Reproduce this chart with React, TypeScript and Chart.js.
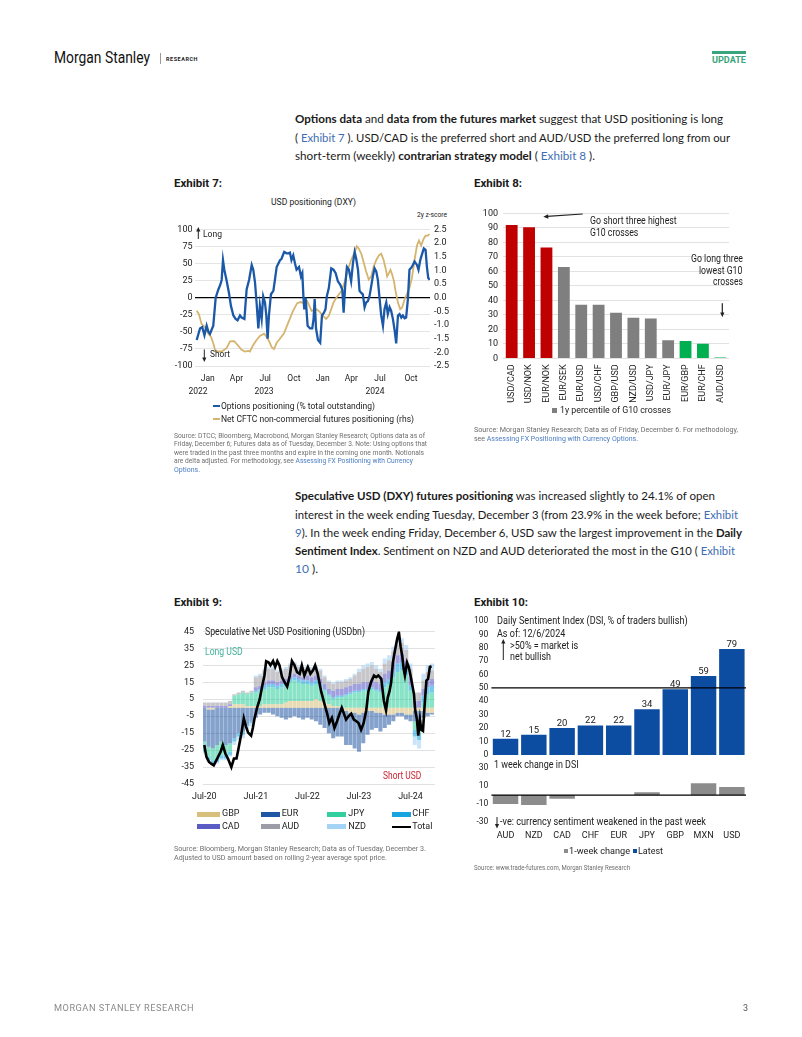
import React, { useEffect, useLayoutEffect, useRef } from "react";
import { Chart, registerables } from "chart.js";
Chart.register(...registerables);

const RB = "Roboto, 'Noto Sans', Arial, sans-serif";
const BODY = "Lato, 'Noto Sans', sans-serif";
const LINK = "#3d6eb4";
Chart.defaults.font.family = "Roboto";
Chart.defaults.color = "#222";

// ---------------- Exhibit 7 data ----------------
const ex7TickWeeks = [5, 18, 31, 44, 57, 70, 83, 97];
const ex7TickLabels = ["Jan", "Apr", "Jul", "Oct", "Jan", "Apr", "Jul", "Oct"];
const ex7YearWeeks = [0.6, 30.5, 80.7];
const ex7YearLabels = ["2022", "2023", "2024"];
const ex7OptWeeks = [0, 1.5, 2.5, 3.5, 4.5, 5.3, 6, 7.5, 8.6, 9.8, 10.7, 11.3, 11.9, 12.5, 13.6, 14.6, 15.5, 16.6, 17.6, 18.5, 19.6, 20.3, 21.6, 22.6, 23.7, 24.9, 25.6, 26.4, 27.1, 27.9, 28.6, 29.4, 30.1, 30.9, 31.5, 32.1, 32.7, 33.6, 34.7, 35.4, 36.2, 37.7, 38.4, 39.6, 40.7, 41.5, 42.2, 42.9, 43.7, 44.5, 45.2, 46.3, 47.2, 47.8, 48.3, 48.7, 49.3, 50.2, 51.3, 52.3, 52.9, 53.4, 54.0, 54.9, 55.9, 56.7, 57.6, 58.3, 58.9, 59.8, 60.9, 61.9, 62.9, 63.9, 65.0, 65.9, 66.5, 67.2, 68.0, 68.9, 69.9, 70.7, 71.5, 72.2, 73.0, 73.7, 74.5, 75.2, 76.0, 76.7, 77.5, 78.2, 79.0, 79.7, 80.5, 81.3, 82.0, 82.8, 83.5, 84.3, 85.0, 85.8, 86.5, 87.3, 88.0, 88.8, 89.6, 90.3, 91.1, 91.8, 92.6, 93.3, 94.1, 94.8, 95.6, 96.3, 97.4, 98.6, 99.7, 100.4, 101.2, 102.1, 102.8, 103.6, 104.2, 104.8, 105.4];
const ex7OptValues = [-62, -45, -43, -55, -41, -50, -53, -41, 0, 12, 19, 26, 55, 41, 24, 7, -12, -26, -31, -33, -26, -29, -31, 12, 26, 48, 41, 22, -7, -45, -12, -31, 2, -7, -26, -60, -26, 5, 10, 26, 45, 55, 57, 67, 65, 65, 66, 55, 62, 50, 41, 45, 31, 36, 2, -17, 0, -41, -45, -45, -31, -2, -45, -62, -66, -26, -22, -17, 2, 14, 43, 41, 36, 24, 19, 12, -22, 17, 45, 41, 24, 50, 67, 57, 41, 10, 7, 5, -14, -7, -5, 2, 17, 31, 43, 38, 26, -2, -26, -41, -17, -7, -24, -14, -19, -31, -48, -67, -26, -24, -29, -26, -30, -29, -2, 41, 45, 53, 48, 41, 55, 65, 72, 70, 45, 29, 26];
const ex7CftcWeeks = [0, 1.0, 2.2, 3.8, 5.3, 6.5, 7.5, 8.3, 9.0, 11.3, 13.5, 15.1, 17.0, 18.5, 20.3, 21.9, 23.4, 24.1, 25.6, 27.1, 28.6, 30.5, 31.7, 32.8, 34.0, 35.0, 36.2, 37.5, 39.5, 41.5, 43.5, 45.5, 47.0, 48.5, 50.0, 51.0, 52.0, 54.1, 55.6, 57.1, 58.6, 59.8, 60.9, 61.9, 63.2, 64.4, 65.4, 66.9, 68.4, 69.9, 71.5, 72.5, 73.4, 74.5, 75.5, 76.7, 77.9, 79.0, 80.1, 81.3, 82.5, 83.5, 84.6, 85.5, 86.2, 87.0, 87.7, 88.5, 89.3, 90.0, 91.1, 92.1, 93.0, 94.1, 95.1, 96.3, 97.4, 98.6, 99.7, 100.6, 101.6, 102.7, 103.6, 104.6, 105.4];
const ex7CftcValues = [-0.48, -0.6, -0.96, -1.08, -1.32, -1.44, -1.67, -1.91, -1.97, -1.97, -1.85, -1.6, -1.59, -1.73, -1.91, -1.97, -1.95, -1.97, -1.73, -1.55, -1.4, -1.32, -1.44, -1.6, -1.82, -1.88, -1.65, -1.52, -1.3, -0.9, -0.5, -0.2, -0.16, -0.2, -0.12, -0.3, -0.48, -0.42, -0.51, -0.66, -0.78, -0.66, -0.42, -0.18, 0, 0.12, 0.24, 0.54, 1.02, 1.38, 1.67, 1.88, 1.79, 1.61, 1.32, 0.96, 0.66, 0.78, 1.14, 1.38, 1.55, 1.61, 1.38, 1.08, 0.78, 0.9, 1.02, 0.84, 0.6, 0.24, -0.18, -0.42, -0.36, -0.06, 0.12, 0.36, 0.72, 1.38, 1.91, 2.09, 1.91, 2.15, 2.27, 2.27, 2.33];

// ---------------- Exhibit 8 data ----------------
const ex8Pairs = ["USD/CAD", "USD/NOK", "EUR/NOK", "EUR/SEK", "EUR/USD", "USD/CHF", "GBP/USD", "NZD/USD", "USD/JPY", "EUR/JPY", "EUR/GBP", "EUR/CHF", "AUD/USD"];
const ex8Values = [92, 90.5, 76.5, 63, 37, 37, 31.5, 28, 27.5, 12.5, 12, 10, 0.5];
const ex8Signal = ["short", "short", "short", "", "", "", "", "", "", "", "long", "long", "long"];

// ---------------- Exhibit 9 data (monthly, Jul-20 .. Dec-24) ----------------
const ex9TickMonths = [0, 12, 24, 36, 48];
const ex9TickLabels = ["Jul-20", "Jul-21", "Jul-22", "Jul-23", "Jul-24"];
const ex9Names = ["GBP", "EUR", "JPY", "CHF", "CAD", "AUD", "NZD"];
const ex9Colors = ["#d8c07c", "#1f56a3", "#33cf9f", "#17a4e0", "#5b5bc6", "#9c9ca6", "#a3d3f5"];
const ex9GBP = [0, -1, -1, 0, 0, 0, 1, 2, 2, 2, 1, 1, 1, 1, 2, 2, 2, 2, 2, 3, 4, 4, 4, 4, 4, 4, 5, 4, 3, 2, 1, 1, 0, -2, -3, -3, -4, -3, -2, -2, -3, -3, -4, -4, -4, -3, -3, -4, -4, -2, -2, -2, -3, -3];
const ex9EUR = [-20, -22, -23, -22, -20, -22, -21, -18, -15, -14, -10, -8, -6, -4, -3, -3, -4, -5, -6, -7, -6, -5, -6, -7, -6, -7, -8, -10, -12, -15, -18, -17, -17, -20, -19, -21, -22, -18, -14, -11, -9, -11, -8, -6, -4, -2, -2, -3, -4, -6, -7, -4, -2, -1];
const ex9JPY = [-4, -6, -7, -8, -8, -6, -5, 5, 6, 7, 7, 8, 8, 9, 9, 10, 10, 9, 10, 10, 11, 12, 11, 10, 10, 9, 9, 8, 7, 5, 4, 5, 6, 7, 8, 9, 9, 10, 10, 11, 10, 9, 12, 14, 18, 21, 22, 19, 10, -5, -6, 3, 8, 9];
const ex9CHF = [-2, -2, -2, -2, -2, -2, -2, -2, -2, -2, -1, -1, 1, 1, 2, 2, 2, 2, 2, 2, 2, 2, 2, 2, 2, 2, 2, 2, 1, 1, 1, 1, 1, 1, 1, 1, 1, 1, 1, 1, 1, 1, 3, 3, 4, 5, 5, 4, 3, -4, -4, 4, 4, 4];
const ex9CAD = [1, 1, 1, 1, 1, 1, 1, 0, 0, 0, 0, 0, 2, 2, 2, 2, 2, 2, 2, 2, 2, 2, 2, 2, 3, 3, 3, 3, 3, 3, 4, 4, 4, 4, 4, 4, 4, 4, 4, 4, 4, 4, 5, 5, 5, 5, 5, 5, 5, 4, 4, 4, 4, 4];
const ex9AUD = [2, 2, 2, 2, 2, 2, 2, 1, 1, 1, 1, 1, 6, 6, 7, 7, 7, 6, 6, 6, 6, 6, 5, 5, 5, 5, 5, 5, 4, 4, 4, 4, 4, 4, 4, 5, 7, 8, 9, 9, 8, 7, 6, 6, 6, 6, 6, 6, 5, 5, 5, 5, 5, 5];
const ex9NZD = [-1, -1, -1, -1, -1, -1, -1, -2, -2, -2, -2, -2, 1, 1, 1, 1, 1, 1, 1, 1, 1, 1, 1, 1, 1, 1, 1, 1, 1, 1, 1, 1, 1, 1, 1, 1, 2, 2, 2, 2, 2, 2, 3, 3, 3, 3, 3, 3, 3, -5, -5, 4, 4, 4];
const ex9Series = [ex9GBP, ex9EUR, ex9JPY, ex9CHF, ex9CAD, ex9AUD, ex9NZD];
const ex9TotalMonths = [0, 0.5, 1.1, 1.6, 2.2, 3.0, 3.8, 4.3, 4.9, 5.5, 6.3, 6.9, 7.5, 7.9, 8.6, 9.2, 9.7, 10.2, 10.9, 11.3, 11.7, 12.3, 12.9, 13.6, 14.0, 14.4, 15.0, 15.4, 16.0, 16.5, 17.0, 17.5, 18.1, 18.7, 19.3, 19.9, 20.4, 21.0, 21.6, 22.2, 22.7, 23.3, 24.1, 24.7, 25.3, 25.8, 26.4, 27.2, 28.0, 28.6, 29.1, 29.7, 30.3, 30.9, 31.5, 32.0, 32.5, 33.0, 33.6, 34.2, 34.8, 35.4, 35.9, 36.5, 37.1, 37.7, 38.2, 38.8, 39.5, 40.0, 40.5, 41.2, 41.8, 42.3, 42.7, 43.1, 43.5, 43.9, 44.4, 44.9, 45.3, 45.7, 46.1, 46.4, 46.7, 47.2, 47.6, 48.0, 48.3, 48.8, 49.1, 49.5, 49.8, 50.2, 50.5, 50.9, 51.3, 51.7, 52.1, 52.5, 52.9];
const ex9TotalValues = [-22, -29, -32, -33, -34, -30, -26, -22, -27, -30, -35, -30, -30, -25, -15.7, -6.3, -11, -14.7, -16.5, -12, -6.3, 0, 5, 14.3, 19, 27.4, 26.6, 25, 27.5, 24, 27.5, 25, 18, 15, 12.5, 19, 27.5, 25, 21, 20, 25, 19, 24, 20, 22, 25, 20, 9.6, 2, -3.5, -9, -6, -12, -8, -3.5, 0, -3.5, -7, -5, -3.5, -7, -8, -9, -13, -9, -1.5, 9.6, 15, 19, 18, 19, 17, 4, -1.5, 6, 9.6, 15, 26.6, 34, 40.6, 44.4, 36, 30, 23, 19, 26.6, 24, 19, 15, 8, -1.5, -7, -16.5, -7, -13, -13.7, 2, 16, 17, 24, 24.4];

// ---------------- Exhibit 10 data ----------------
const ex10Cats = ["AUD", "NZD", "CAD", "CHF", "EUR", "JPY", "GBP", "MXN", "USD"];
const ex10Latest = [12, 15, 20, 22, 22, 34, 49, 59, 79];
const ex10Change = [-10, -11, -4, 0, 0, 3, 0, 13, 9];

// ---------------- helpers ----------------
function rgba(hex: string, a: number) {
  const n = parseInt(hex.slice(1), 16);
  return `rgba(${(n >> 16) & 255},${(n >> 8) & 255},${n & 255},${a})`;
}

const common = {
  responsive: false,
  animation: false,
  devicePixelRatio: 1,
  events: [],
};
const noPlug = { legend: { display: false }, tooltip: { enabled: false }, title: { display: false } };

function refLine(id: string, value: number, width = 1.3) {
  return {
    id,
    afterDatasetsDraw(chart: any) {
      const { ctx, chartArea } = chart;
      const yy = chart.scales.y.getPixelForValue(value);
      ctx.save();
      ctx.strokeStyle = "#000";
      ctx.lineWidth = width;
      ctx.beginPath();
      ctx.moveTo(chartArea.left, yy);
      ctx.lineTo(chartArea.right, yy);
      ctx.stroke();
      ctx.restore();
    },
  };
}

function ChartCanvas({ x, y, w, h, make }: { x: number; y: number; w: number; h: number; make: () => any }) {
  const ref = useRef<HTMLCanvasElement>(null);
  useEffect(() => {
    const chart = new Chart(ref.current as HTMLCanvasElement, make());
    return () => chart.destroy();
  }, []);
  return <canvas ref={ref} width={w} height={h} style={{ position: "absolute", left: x, top: y, width: w, height: h }} />;
}

function T(props: { x: number; y: number; s: number; w?: number; c?: string; b?: boolean; f?: string; ls?: number; children: React.ReactNode }) {
  const { x, y, s, w, c = "#222", b = false, f = RB, ls = 0, children } = props;
  const ref = useRef<HTMLDivElement>(null);
  useLayoutEffect(() => {
    const fit = () => {
      const el = ref.current;
      if (!el || !w) return;
      el.style.transform = "none";
      const nat = el.getBoundingClientRect().width;
      if (nat > 0) el.style.transform = `scaleX(${w / nat})`;
    };
    fit();
    const fs: any = (document as any).fonts;
    if (fs && fs.ready) fs.ready.then(fit);
  }, [w]);
  return (
    <div
      ref={ref}
      style={{
        position: "absolute",
        left: x,
        top: y - 0.63 * s,
        fontFamily: f,
        fontSize: s,
        lineHeight: `${1.2 * s}px`,
        fontWeight: b ? 700 : 400,
        color: c,
        whiteSpace: "nowrap",
        letterSpacing: ls,
        transformOrigin: "0 0",
      }}
    >
      {children}
    </div>
  );
}

function Box({ x, y, w, h, c }: { x: number; y: number; w: number; h: number; c: string }) {
  return <div style={{ position: "absolute", left: x, top: y, width: w, height: h, background: c }} />;
}

// ---------------- chart configs ----------------
function ex7Config() {
  return {
    type: "line",
    data: {
      datasets: [
        {
          data: ex7OptWeeks.map((x, i) => ({ x, y: ex7OptValues[i] })),
          borderColor: "#1b58a7",
          borderWidth: 2.3,
          pointRadius: 0,
          yAxisID: "y",
          xAxisID: "x",
        },
        {
          data: ex7CftcWeeks.map((x, i) => ({ x, y: ex7CftcValues[i] })),
          borderColor: "#d4b46f",
          borderWidth: 1.8,
          pointRadius: 0,
          yAxisID: "y2",
          xAxisID: "x",
        },
      ],
    },
    options: {
      ...common,
      plugins: noPlug,
      layout: { padding: { top: 6.7, left: 0, right: 0, bottom: 0 } },
      scales: {
        x: {
          type: "linear", position: "bottom", min: -0.77, max: 105.6, weight: 0,
          grid: { display: false, drawTicks: false }, border: { display: false },
          afterBuildTicks: (s: any) => { s.ticks = ex7TickWeeks.map((v) => ({ value: v })); },
          afterFit: (s: any) => { s.height = 20; },
          ticks: { autoSkip: false, maxRotation: 0, padding: 7.6, font: { size: 8.5 }, color: "#222",
            callback: (v: any) => { const i = ex7TickWeeks.indexOf(Number(v)); return i >= 0 ? ex7TickLabels[i] : ""; } },
        },
        x2: {
          type: "linear", position: "bottom", min: -0.77, max: 105.6, weight: 1,
          grid: { display: false, drawTicks: false }, border: { display: false },
          afterBuildTicks: (s: any) => { s.ticks = ex7YearWeeks.map((v) => ({ value: v })); },
          afterFit: (s: any) => { s.height = 19; },
          ticks: { autoSkip: false, maxRotation: 0, padding: 0.9, font: { size: 8.5 }, color: "#222",
            callback: (v: any) => { const i = ex7YearWeeks.indexOf(Number(v)); return i >= 0 ? ex7YearLabels[i] : ""; } },
        },
        y: {
          position: "left", min: -100, max: 100,
          ticks: { stepSize: 25, padding: 2.5, font: { size: 9 }, color: "#222", autoSkip: false },
          grid: {
            drawTicks: false,
            color: (c: any) => (c.tick && c.tick.value === 0 ? "#000" : "#dedede"),
            lineWidth: (c: any) => (c.tick && c.tick.value === 0 ? 1.2 : 0.8),
          },
          border: { display: false },
          afterFit: (s: any) => { s.width = 35; },
        },
        y2: {
          position: "right", min: -2.5, max: 2.5,
          ticks: { stepSize: 0.5, padding: 4, font: { size: 9 }, color: "#222", autoSkip: false, callback: (v: any) => Number(v).toFixed(1) },
          grid: { display: false, drawTicks: false }, border: { display: false },
          afterFit: (s: any) => { s.width = 30; },
        },
      },
    },
  };
}

function ex8Config() {
  return {
    type: "bar",
    data: {
      labels: ex8Pairs,
      datasets: [
        {
          data: ex8Values,
          backgroundColor: ex8Signal.map((s) => (s === "short" ? "#c00000" : s === "long" ? "#00b050" : "#7f7f7f")),
          barPercentage: 0.68,
          categoryPercentage: 1,
        },
      ],
    },
    options: {
      ...common,
      plugins: noPlug,
      layout: { padding: { top: 7.7, right: 11, left: 0, bottom: 0 } },
      scales: {
        x: {
          grid: { display: false, drawTicks: false }, border: { display: false },
          ticks: { autoSkip: false, maxRotation: 90, minRotation: 90, padding: 6, font: { size: 9 }, color: "#222" },
          afterFit: (s: any) => { s.height = 47.7; },
        },
        y: {
          min: 0, max: 100,
          ticks: { stepSize: 10, padding: 5, font: { size: 9 }, color: "#222", autoSkip: false },
          grid: { color: "#dadada", drawTicks: false, lineWidth: 0.8 }, border: { display: false },
          afterFit: (s: any) => { s.width = 28; },
        },
      },
    },
  };
}

function ex9Config() {
  return {
    type: "bar",
    data: {
      datasets: [
        {
          type: "line",
          data: ex9TotalMonths.map((x, i) => ({ x, y: ex9TotalValues[i] })),
          borderColor: "#000",
          borderWidth: 2.6,
          pointRadius: 0,
          order: 0,
        },
        ...ex9Series.map((arr, k) => ({
          type: "bar",
          label: ex9Names[k],
          data: arr.map((y, i) => ({ x: i, y })),
          backgroundColor: rgba(ex9Colors[k], k === 1 ? 0.55 : 0.58),
          borderWidth: 0,
          barPercentage: 0.94,
          categoryPercentage: 1,
          order: 1,
        })),
      ],
    },
    options: {
      ...common,
      plugins: noPlug,
      layout: { padding: { top: 7, right: 5, left: 0, bottom: 0 } },
      scales: {
        x: {
          type: "linear", min: -0.3, max: 53.7, offset: false, stacked: true,
          grid: { display: false, drawTicks: false }, border: { display: false },
          afterBuildTicks: (s: any) => { s.ticks = ex9TickMonths.map((v) => ({ value: v })); },
          afterFit: (s: any) => { s.height = 23; },
          ticks: { autoSkip: false, maxRotation: 0, padding: 7, font: { size: 9 }, color: "#222",
            callback: (v: any) => { const i = ex9TickMonths.indexOf(Number(v)); return i >= 0 ? ex9TickLabels[i] : ""; } },
        },
        y: {
          stacked: true, min: -45, max: 45,
          ticks: { stepSize: 10, padding: 9, font: { size: 9 }, color: "#222", autoSkip: false },
          grid: { color: "#d9d9d9", drawTicks: false, lineWidth: 0.8 }, border: { display: false },
          afterFit: (s: any) => { s.width = 33; },
        },
      },
    },
  };
}

const ex10Labels = {
  id: "ex10Labels",
  afterDatasetsDraw(chart: any) {
    const { ctx } = chart;
    const meta = chart.getDatasetMeta(0);
    ctx.save();
    ctx.font = "9.5px Roboto";
    ctx.fillStyle = "#222";
    ctx.textAlign = "center";
    ctx.textBaseline = "alphabetic";
    meta.data.forEach((bar: any, i: number) => {
      ctx.fillText(String(ex10Latest[i]), bar.x, bar.y - 2);
    });
    ctx.restore();
  },
};

function ex10TopConfig() {
  return {
    type: "bar",
    data: { labels: ex10Cats, datasets: [{ data: ex10Latest, backgroundColor: "#0c4da2", barPercentage: 0.9, categoryPercentage: 1 }] },
    options: {
      ...common,
      plugins: noPlug,
      layout: { padding: { top: 9, right: 4, left: 0, bottom: 6 } },
      scales: {
        x: { display: false },
        y: {
          min: 0, max: 100,
          ticks: { stepSize: 10, padding: 3, font: { size: 8.5 }, color: "#222", autoSkip: false },
          grid: { display: false, drawTicks: false }, border: { display: false },
          afterFit: (s: any) => { s.width = 21.4; },
        },
      },
    },
    plugins: [refLine("ref50", 50, 1.3), ex10Labels],
  };
}

function ex10BottomConfig() {
  return {
    type: "bar",
    data: { labels: ex10Cats, datasets: [{ data: ex10Change, backgroundColor: "#8c8c8c", barPercentage: 0.9, categoryPercentage: 1 }] },
    options: {
      ...common,
      plugins: noPlug,
      layout: { padding: { top: 6, right: 4, left: 0, bottom: 0 } },
      scales: {
        x: {
          grid: { display: false, drawTicks: false }, border: { display: false },
          ticks: { padding: 8, font: { size: 9 }, color: "#222", autoSkip: false, maxRotation: 0 },
          afterFit: (s: any) => { s.height = 23; },
        },
        y: {
          min: -30, max: 30,
          ticks: { stepSize: 20, padding: 3, font: { size: 8.5 }, color: "#222", autoSkip: false },
          grid: { display: false, drawTicks: false }, border: { display: false },
          afterFit: (s: any) => { s.width = 21.4; },
        },
      },
    },
    plugins: [refLine("ref0", 0, 1.3)],
  };
}

// ---------------- arrows ----------------
function Arrows() {
  const st = { stroke: "#222", strokeWidth: 1 };
  return (
    <svg width={802} height={1037} style={{ position: "absolute", left: 0, top: 0, pointerEvents: "none" }}>
      <line x1={198.3} y1={239} x2={198.3} y2={230} {...st} />
      <polygon points="198.3,227 196.2,231.5 200.4,231.5" fill="#222" />
      <line x1={204.3} y1={349.5} x2={204.3} y2={359} {...st} />
      <polygon points="204.3,362 202.2,357.5 206.4,357.5" fill="#222" />
      <line x1={582.7} y1={214} x2={547} y2={216.4} stroke="#222" strokeWidth={1.2} />
      <polygon points="543.3,216.7 548.4,218.8 548.1,214.2" fill="#222" />
      <line x1={722.3} y1={303.3} x2={722.3} y2={313} stroke="#222" strokeWidth={1.2} />
      <polygon points="722.3,317.3 720.2,312.5 724.4,312.5" fill="#222" />
      <line x1={503.3} y1={660} x2={503.3} y2={642} {...st} />
      <polygon points="503.3,639 501.2,643.5 505.4,643.5" fill="#222" />
      <line x1={497} y1={817} x2={497} y2={825.5} {...st} />
      <polygon points="497,828.5 494.9,824 499.1,824" fill="#222" />
    </svg>
  );
}

// ---------------- page ----------------
export default function App() {
  const bodyC = "#1a1a1a";
  const srcC = "#6e6e6e";
  const srcL = "#4a7cc4";
  return (
    <div style={{ position: "absolute", left: 0, top: 0, width: 802, height: 1037, background: "#fff", overflow: "hidden" }}>
      {/* header */}
      <T x={54} y={58} s={16} w={96} c="#111">Morgan Stanley</T>
      <Box x={159.5} y={52.5} w={1} h={11} c="#9a9a9a" />
      <T x={166} y={58.5} s={6} w={32} b ls={0.6} c="#222">RESEARCH</T>
      <Box x={712} y={51} w={34} h={2.5} c="#3aa57c" />
      <T x={712} y={59.5} s={9.5} w={34} b c="#3aa57c">UPDATE</T>

      {/* paragraph 1 */}
      <T x={294.5} y={120} s={12} w={428} f={BODY} c={bodyC}><b>Options data</b> and <b>data from the futures market</b> suggest that USD positioning is long</T>
      <T x={294.5} y={138.5} s={12} w={435} f={BODY} c={bodyC}>( <span style={{ color: LINK }}>Exhibit 7</span> ). USD/CAD is the preferred short and AUD/USD the preferred long from our</T>
      <T x={294.5} y={157} s={12} w={300} f={BODY} c={bodyC}>short-term (weekly) <b>contrarian strategy model</b> ( <span style={{ color: LINK }}>Exhibit 8</span> ).</T>

      {/* exhibit headers */}
      <T x={174} y={184} s={11} w={48} b c="#1a1a1a">Exhibit 7:</T>
      <T x={474} y={184} s={11} w={48} b c="#1a1a1a">Exhibit 8:</T>

      {/* Exhibit 7 */}
      <ChartCanvas x={160} y={220} w={300} h={185} make={ex7Config} />
      <T x={270.5} y={201.7} s={9.5} w={85}>USD positioning (DXY)</T>
      <T x={416.7} y={215} s={7.5} w={30}>2y z-score</T>
      <T x={202.7} y={234.3} s={9.5} w={19}>Long</T>
      <T x={210} y={354.3} s={9.5} w={20}>Short</T>
      <Box x={212.7} y={405} w={7} h={2.2} c="#1b58a7" />
      <T x={220.5} y={406} s={9.5} w={154}>Options positioning (% total outstanding)</T>
      <Box x={212.7} y={418.3} w={7} h={2.2} c="#d4b46f" />
      <T x={220.5} y={419.3} s={9.5} w={193}>Net CFTC non-commercial futures positioning (rhs)</T>
      <T x={174} y={436} s={7} w={251} c={srcC}>Source: DTCC; Bloomberg, Macrobond, Morgan Stanley Research; Options data as of</T>
      <T x={174} y={444.5} s={7} w={253} c={srcC}>Friday, December 6; Futures data as of Tuesday, December 3. Note: Using options that</T>
      <T x={174} y={453} s={7} w={250} c={srcC}>were traded in the past three months and expire in the coming one month. Notionals</T>
      <T x={174} y={461.5} s={7} w={239} c={srcC}>are delta adjusted. For methodology, see <span style={{ color: srcL }}>Assessing FX Positioning with Currency</span></T>
      <T x={174} y={470} s={7} w={26} c={srcL}>Options.</T>

      {/* Exhibit 8 */}
      <ChartCanvas x={475} y={203} w={265} h={203} make={ex8Config} />
      <T x={590} y={221.7} s={10} w={86.7}>Go short three highest</T>
      <T x={590} y={233.3} s={10} w={48.3}>G10 crosses</T>
      <T x={690.7} y={259.3} s={10} w={52}>Go long three</T>
      <T x={699.3} y={271} s={10} w={43.4}>lowest G10</T>
      <T x={712.7} y={282.7} s={10} w={30}>crosses</T>
      <Box x={552.3} y={407.5} w={5} h={5} c="#7f7f7f" />
      <T x={560} y={410} s={9.5} w={111}>1y percentile of G10 crosses</T>
      <T x={474} y={430} s={7} w={264} c={srcC}>Source: Morgan Stanley Research; Data as of Friday, December 6. For methodology,</T>
      <T x={474} y={439} s={7} w={164} c={srcC}>see <span style={{ color: srcL }}>Assessing FX Positioning with Currency Options</span>.</T>

      {/* paragraph 2 */}
      <T x={294.5} y={497} s={12} w={420} f={BODY} c={bodyC}><b>Speculative USD (DXY) futures positioning</b> was increased slightly to 24.1% of open</T>
      <T x={294.5} y={515.5} s={12} w={443} f={BODY} c={bodyC}>interest in the week ending Tuesday, December 3 (from 23.9% in the week before; <span style={{ color: LINK }}>Exhibit</span></T>
      <T x={294.5} y={533.5} s={12} w={447} f={BODY} c={bodyC}><span style={{ color: LINK }}>9</span>). In the week ending Friday, December 6, USD saw the largest improvement in the <b>Daily</b></T>
      <T x={294.5} y={552} s={12} w={440} f={BODY} c={bodyC}><b>Sentiment Index</b>. Sentiment on NZD and AUD deteriorated the most in the G10 ( <span style={{ color: LINK }}>Exhibit</span></T>
      <T x={294.5} y={570} s={12} w={23} f={BODY} c={bodyC}><span style={{ color: LINK }}>10</span> ).</T>

      <T x={174} y={603} s={11} w={48} b c="#1a1a1a">Exhibit 9:</T>
      <T x={474} y={603} s={11} w={54} b c="#1a1a1a">Exhibit 10:</T>

      {/* Exhibit 9 */}
      <ChartCanvas x={170} y={617} w={270} h={190} make={ex9Config} />
      <T x={205} y={632.7} s={10} w={160}>Speculative Net USD Positioning (USDbn)</T>
      <T x={205} y={652.7} s={10} w={37.7} c="#3fb09a">Long USD</T>
      <T x={383.3} y={776.7} s={10} w={38.3} c="#c8202f">Short USD</T>
      {ex9Names.map((n, k) => {
        const col = k % 4;
        const row = Math.floor(k / 4);
        const sx = [196.7, 260.7, 326.7, 391.7][col];
        const tx = [222, 281.7, 348.3, 412.3][col];
        const yy = row === 0 ? 814 : 826.7;
        return (
          <React.Fragment key={n}>
            <Box x={sx} y={yy - 2.5} w={col === 0 ? 23 : 19.5} h={5} c={ex9Colors[k]} />
            <T x={tx} y={yy} s={9}>{n}</T>
          </React.Fragment>
        );
      })}
      <Box x={391.7} y={825.5} w={19.5} h={2.6} c="#000" />
      <T x={412.3} y={826.7} s={9}>Total</T>
      <T x={174} y={849} s={7} w={252} c={srcC}>Source: Bloomberg, Morgan Stanley Research; Data as of Tuesday, December 3.</T>
      <T x={174} y={858} s={7} w={213} c={srcC}>Adjusted to USD amount based on rolling 2-year average spot price.</T>

      {/* Exhibit 10 */}
      <ChartCanvas x={470} y={612} w={280} h={151} make={ex10TopConfig} />
      <ChartCanvas x={470} y={760} w={280} h={85} make={ex10BottomConfig} />
      <T x={496.7} y={621} s={10} w={190.6}>Daily Sentiment Index (DSI, % of traders bullish)</T>
      <T x={496.7} y={634.7} s={10} w={68.3}>As of: 12/6/2024</T>
      <T x={510} y={646} s={10} w={68.3}>&gt;50% = market is</T>
      <T x={510} y={657.3} s={10} w={41}>net bullish</T>
      <T x={494} y={765.7} s={10} w={84.7}>1 week change in DSI</T>
      <T x={500} y={822.3} s={10} w={206}>-ve: currency sentiment weakened in the past week</T>
      <Box x={564} y={849} w={4} h={4} c="#8c8c8c" />
      <T x={568.5} y={851} s={9.5} w={61}>1-week change</T>
      <Box x={633.3} y={849} w={4} h={4} c="#0c4da2" />
      <T x={638} y={851} s={9.5} w={25}>Latest</T>
      <T x={474} y={868} s={7} w={156} c={srcC}>Source: www.trade-futures.com, Morgan Stanley Research</T>

      <Arrows />

      {/* footer */}
      <T x={54} y={1009} s={9} w={140} ls={0.5} c="#8a8a8a">MORGAN STANLEY RESEARCH</T>
      <T x={743} y={1009} s={9} c="#555">3</T>
    </div>
  );
}
